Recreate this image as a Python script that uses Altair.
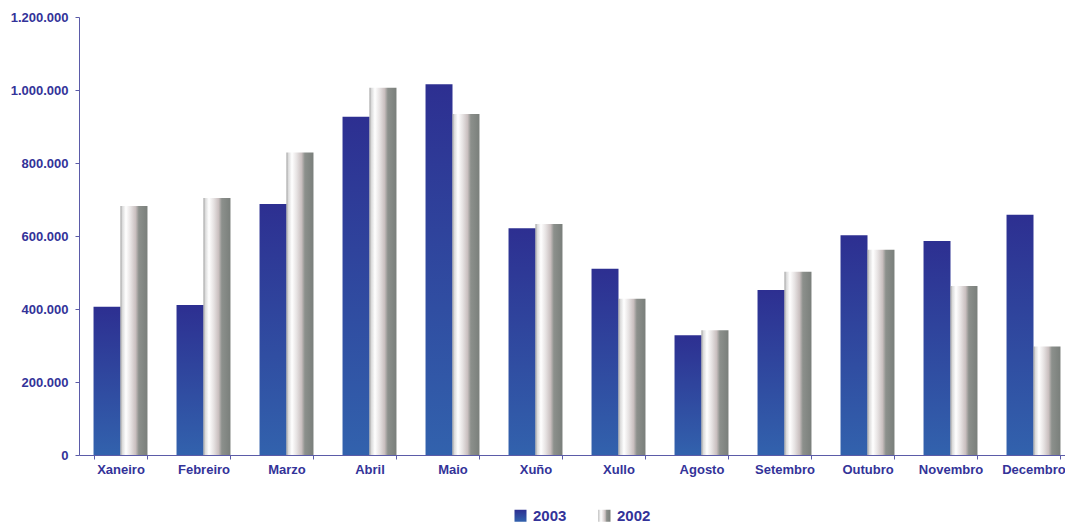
import altair as alt
import pandas as pd

months = ["Xaneiro", "Febreiro", "Marzo", "Abril", "Maio", "Xuño", "Xullo",
          "Agosto", "Setembro", "Outubro", "Novembro", "Decembro"]
years = ["2003", "2002"]
v2003 = [406000, 411000, 688000, 927000, 1016000, 621000, 510000, 328000, 452000, 602000, 586000, 658000]
v2002 = [682000, 704000, 829000, 1006000, 934000, 633000, 428000, 342000, 502000, 562000, 463000, 297000]

rows = []
for m, a, b in zip(months, v2003, v2002):
    rows.append({"mes": m, "ano": "2003", "valor": a})
    rows.append({"mes": m, "ano": "2002", "valor": b})
df = pd.DataFrame(rows)

grad_blue = ("{gradient: 'linear', x1: 0, y1: 0, x2: 0, y2: 1, stops: ["
             "{offset: 0, color: '#2d2f91'}, {offset: 1, color: '#3262ad'}]}")
grad_gray = ("{gradient: 'linear', x1: 0, y1: 0, x2: 1, y2: 0, stops: ["
             "{offset: 0, color: '#9a9a9a'}, {offset: 0.06, color: '#d8d8d8'}, "
             "{offset: 0.2, color: '#ffffff'}, {offset: 0.38, color: '#e6e2e2'}, "
             "{offset: 0.56, color: '#c9bfbf'}, {offset: 0.68, color: '#8c908c'}, "
             "{offset: 1, color: '#7a7f7b'}]}")

TXT = "#333399"
AX = "#5b5ba8"

chart = alt.Chart(df).mark_bar().encode(
    x=alt.X("mes:N", sort=months, title=None,
            scale=alt.Scale(paddingInner=0.35, paddingOuter=0.175, range=[0, 996]),
            axis=alt.Axis(labelAngle=0, tickBand="extent", labelFont="Liberation Sans",
                          labelFontWeight="bold", labelFontSize=13, labelColor=TXT,
                          domainColor=AX, tickColor=AX, tickSize=4, labelPadding=4)),
    xOffset=alt.XOffset("ano:N", sort=years, scale=alt.Scale(paddingInner=0, paddingOuter=0)),
    y=alt.Y("valor:Q", title=None,
            scale=alt.Scale(domain=[0, 1200000], nice=False),
            axis=alt.Axis(values=[0, 200000, 400000, 600000, 800000, 1000000, 1200000],
                          grid=False, labelFont="Liberation Sans", labelFontWeight="bold",
                          labelFontSize=13, labelColor=TXT, domainColor=AX, tickColor=AX,
                          tickSize=4, labelPadding=7,
                          labelExpr="replace(format(datum.value, ','), regexp(',', 'g'), '.')")),
    color=alt.Color("ano:N", sort=years, title=None,
                    scale=alt.Scale(domain=years, range=[alt.ExprRef(grad_blue), alt.ExprRef(grad_gray)]),
                    legend=alt.Legend(orient="none", legendX=434, legendY=491,
                                      direction="horizontal", symbolType="square",
                                      symbolSize=144, labelFont="Liberation Sans", labelFontWeight="bold",
                                      labelFontSize=15, labelColor=TXT, labelOffset=5,
                                      columnPadding=30, symbolStrokeWidth=0)),
).properties(
    width=986, height=438,
    padding={"left": 71, "top": 9, "right": 0, "bottom": 70},
    autosize=alt.AutoSizeParams(type="none"),
).configure_view(stroke=None)

chart.save("out.html", embed_options={"renderer": "svg", "actions": False})
